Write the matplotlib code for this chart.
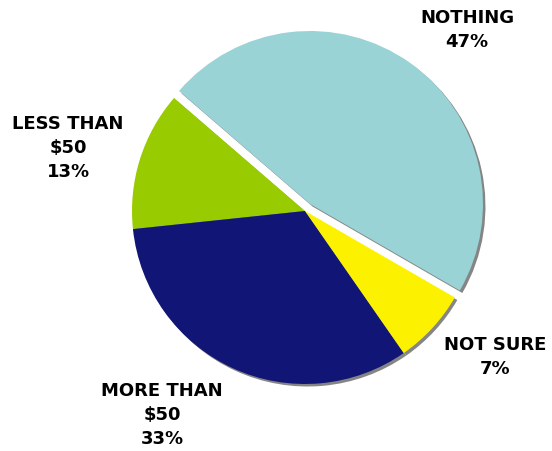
import matplotlib
matplotlib.use("Agg")
import matplotlib.pyplot as plt

categories = ["NOTHING", "LESS THAN\n$50", "MORE THAN\n$50", "NOT SURE"]
shares = [47, 13, 33, 7]
colors = ["#99D3D6", "#99CC00", "#111575", "#FCF200"]

# label anchor positions in pixel space (x, y from top)
label_pos = [(467, 30), (68, 148), (162, 415), (495, 357)]

W, H = 552, 452
fig = plt.figure(figsize=(W / 100, H / 100), dpi=100)
ax = fig.add_axes([0, 0, 1, 1])

cx, cy, r = 305, H - 212, 173
start = -30
# pie offsets are in data units (pixels here): pull out the first slice
explode = [8.6, 0, 0, 0]

# drop shadow: same wedges in gray, nudged right and down
ax.pie(shares, explode=explode, colors=["#858585"] * len(shares),
       startangle=start, counterclock=True, radius=r,
       center=(cx + 2.5, cy - 2.5), frame=True,
       wedgeprops=dict(linewidth=0))

ax.pie(shares, explode=explode, colors=colors,
       startangle=start, counterclock=True, radius=r,
       center=(cx, cy), frame=True,
       wedgeprops=dict(linewidth=0))

ax.set_xlim(0, W)
ax.set_ylim(0, H)
ax.set_aspect("equal")
ax.axis("off")

for name, val, (x, y) in zip(categories, shares, label_pos):
    ax.text(x, H - y, f"{name}\n{val}%", ha="center", va="center",
            fontsize=13, fontweight="bold", family="DejaVu Sans",
            color="black", linespacing=1.45)

fig.savefig("out.png", dpi=100)
